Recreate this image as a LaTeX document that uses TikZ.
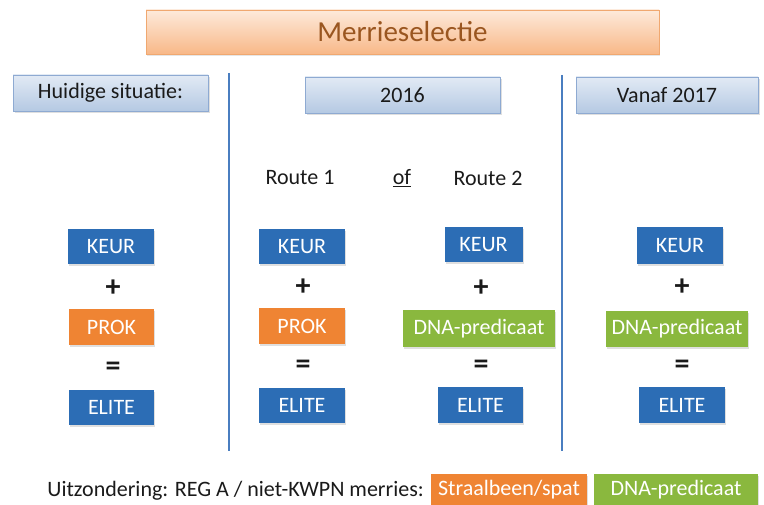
\documentclass[tikz,border=0pt]{standalone}
\usepackage{fontspec}
\setmainfont{Carlito}
\usetikzlibrary{shadows}
\definecolor{titletxt}{HTML}{9A5620}
\definecolor{titletop}{HTML}{FDEADB}
\definecolor{titlebot}{HTML}{F8B888}
\definecolor{titleborder}{HTML}{F0A870}
\definecolor{headtop}{HTML}{E2EAF5}
\definecolor{headbot}{HTML}{B5C9E3}
\definecolor{headborder}{HTML}{8EAAD2}
\definecolor{bluebox}{HTML}{2C6DB5}
\definecolor{orangebox}{HTML}{EF8433}
\definecolor{greenbox}{HTML}{8AB83E}
\definecolor{divider}{HTML}{4A7EC0}
\definecolor{txt}{HTML}{1A1A1A}
\tikzset{
  base/.style={font=\fontsize{22}{26}\selectfont, inner sep=0pt},
  titlebox/.style={base, font=\fontsize{29}{34}\selectfont, text=titletxt,
    top color=titletop, bottom color=titlebot, draw=titleborder, line width=0.8pt,
    minimum width=513pt, minimum height=44pt,
    drop shadow={opacity=0.2, shadow xshift=1pt, shadow yshift=-2pt}},
  headbox/.style={base, text=txt, top color=headtop, bottom color=headbot,
    draw=headborder, line width=0.8pt, minimum height=36pt,
    drop shadow={opacity=0.25, shadow xshift=1.5pt, shadow yshift=-2pt}},
  colorbox/.style={base, text=white, minimum height=35pt,
    drop shadow={opacity=0.25, shadow xshift=1pt, shadow yshift=-2pt}},
  bluestyle/.style={colorbox, fill=bluebox, minimum width=86pt},
  orangestyle/.style={colorbox, fill=orangebox, minimum width=86pt},
  greenstyle/.style={colorbox, fill=greenbox},
  sym/.style={base, font=\fontsize{30}{34}\selectfont\bfseries, text=txt},
  plain/.style={base, text=txt},
  divline/.style={draw=divider, line width=2pt}
}
\begin{document}
\begin{tikzpicture}[x=1pt,y=-1pt]
\useasboundingbox (0,0) rectangle (764,505);
% title
\node[titlebox] (title) at (402.5,32) {Merrieselectie};
% headers
\node[headbox, minimum width=195pt] (huidig) at (110.5,93) {Huidige situatie:};
\node[headbox, minimum width=195pt] (y2016) at (402.5,95) {2016};
\node[headbox, minimum width=182pt] (y2017) at (667,95) {Vanaf 2017};
% dividers
\coordinate (d1t) at (229,73);
\coordinate (d1b) at (229,451);
\coordinate (d2t) at (562,75);
\coordinate (d2b) at (562,451);
\draw[divline] (d1t) -- (d1b);
\draw[divline] (d2t) -- (d2b);
% routes
\node[plain] (r1) at (300,178) {Route 1};
\node[plain] (of) at (402,178) {\underline{of}};
\node[plain] (r2) at (488,178) {Route 2};
% column 1
\node[bluestyle] (k1) at (111,246.5) {KEUR};
\node[sym] (p1) at (113,288) {+};
\node[orangestyle, minimum width=85pt, minimum height=36pt] (o1) at (111.5,327) {PROK};
\node[sym] (e1) at (113,369) {=};
\node[bluestyle, minimum width=85pt] (el1) at (111.5,407.5) {ELITE};
% column 2
\node[bluestyle] (k2) at (302,246.5) {KEUR};
\node[sym] (p2) at (303,287) {+};
\node[orangestyle, minimum height=36pt] (o2) at (302,326) {PROK};
\node[sym] (e2) at (303,367) {=};
\node[bluestyle] (el2) at (302,405.5) {ELITE};
% column 3
\node[bluestyle, minimum width=78pt] (k3) at (483.5,244.5) {KEUR};
\node[sym] (p3) at (481,288) {+};
\node[greenstyle, minimum width=152pt, minimum height=37pt] (g3) at (479,328.5) {DNA-predicaat};
\node[sym] (e3) at (481,367) {=};
\node[bluestyle, minimum width=85pt, minimum height=36pt] (el3) at (480.5,405) {ELITE};
% column 4
\node[bluestyle, minimum height=37pt] (k4) at (680,245.5) {KEUR};
\node[sym] (p4) at (682,287) {+};
\node[greenstyle, minimum width=142pt, minimum height=36pt] (g4) at (677,329) {DNA-predicaat};
\node[sym] (e4) at (682,367) {=};
\node[bluestyle, minimum height=36pt] (el4) at (682,405) {ELITE};
% bottom line
\node[plain, anchor=east] (exc) at (424,491) {Uitzondering: REG A / niet-KWPN merries:};
\node[colorbox, fill=orangebox, minimum width=156pt, minimum height=31pt] (spat) at (509,489.5) {Straalbeen/spat};
\node[colorbox, fill=greenbox, minimum width=164pt, minimum height=31pt] (dna) at (676,489.5) {DNA-predicaat};
\end{tikzpicture}
\end{document}
